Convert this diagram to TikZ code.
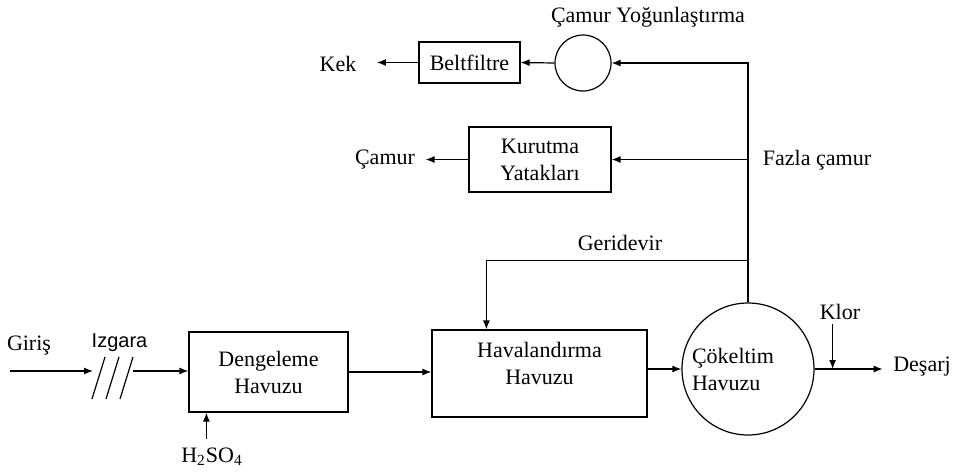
\documentclass[tikz,border=0pt]{standalone}
\usepackage{fontspec}
\setmainfont{Liberation Serif}
\newfontfamily\arialfont{Liberation Sans}
\usetikzlibrary{arrows.meta,positioning,calc}
\begin{document}
\begin{tikzpicture}[x=0.5pt,y=-0.5pt,>={Latex[length=4.5pt,width=3.5pt]},font=\fontsize{11}{13.5}\selectfont,line width=0.6pt]
\tikzstyle{b}=[draw,inner sep=0pt,align=center]
\tikzstyle{t}=[inner sep=0pt]
\useasboundingbox (0,0) rectangle (955,473);
% havuzlar
\node[b,minimum width=79.5pt,minimum height=40pt] (deng) at (268.5,372) {Dengeleme\\Havuzu};
\node[b,minimum width=107.5pt,minimum height=43.5pt] (hav) at (539.5,373.5) {Havalandırma\\Havuzu\\[-3.5pt]};
\node[b,circle,minimum size=66pt,align=left] (cok) at (748,369) {Çökeltim\hspace*{15pt}\\Havuzu};
\node[b,minimum width=71pt,minimum height=32.5pt] (kur) at (540,159.5) {Kurutma\\Yatakları};
\node[b,minimum width=50.5pt,minimum height=20.5pt] (belt) at (469.5,62.5) {Beltfiltre};
\node[b,circle,minimum size=28pt] (yog) at (583,63) {};
% yazilar
\node[t] (giris) at (29,346) {Giriş};
\node[t,font=\arialfont\fontsize{10}{12}\selectfont] (izg) at (119.5,343) {Izgara};
\node[t] (h2) at (212,457) {H\textsubscript{2}SO\textsubscript{4}};
\node[t] (klor) at (840,312) {Klor};
\node[t] (des) at (922,367) {Deşarj};
\node[t] (geri) at (620,243) {Geridevir};
\node[t] (fazla) at (817,160) {Fazla çamur};
\node[t] (camur) at (385,160) {Çamur};
\node[t] (kek) at (338,64) {Kek};
\node[t] (yogy) at (648,17) {Çamur Yoğunlaştırma};
% giris ve izgara
\coordinate (g0) at (10,371);
\coordinate (z1) at (93,371);
\coordinate (z2) at (133,371);
\draw[->] (g0) -- (z1);
\foreach \x in {92,106,120} \draw (\x,399) -- ++(13,-42);
\draw[->] (z2) -- (z2 -| deng.west);
\coordinate (hx) at ($(deng.south west)+(18,0)$);
\draw[->] ($(h2.north -| hx)+(0,-8)$) -- (hx);
\draw[->] (deng.east) -- (deng.east -| hav.west);
\draw[->] (cok.west -| hav.east) -- (cok.west);
% cikis
\coordinate (kl) at ($(cok.east)+(18,0)$);
\draw[->] (cok.east) -- ($(cok.east -| des.west)+(-10,0)$);
\draw[->] ($(klor.south -| kl)+(0,4)$) -- (kl);
% camur hatti
\coordinate (ust) at (cok.north |- yog.east);
\coordinate (gd) at ($(cok.north)+(0,-42)$);
\draw[->] (cok.north) -- (ust) -- (yog.east);
\draw[->] (cok.north |- kur.east) -- (kur.east);
\draw[->] (gd) -| ($(hav.north west)+(55,0)$);
\draw[->] (yog.west) -- (belt.east);
\draw[->] (belt.west) -- ($(belt.west -| kek.east)+(20,0)$);
\draw[->] (kur.west) -- ($(kur.west -| camur.east)+(10,0)$);
\end{tikzpicture}
\end{document}
